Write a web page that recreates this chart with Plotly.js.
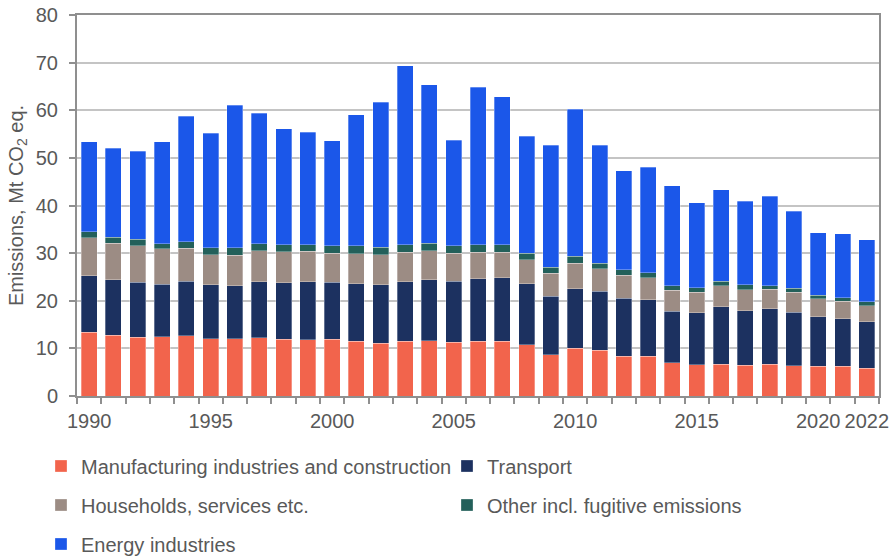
<!DOCTYPE html>
<html>
<head>
<meta charset="utf-8">
<script src="https://cdn.plot.ly/plotly-3.0.1.min.js"></script>
<style>html,body{margin:0;padding:0;background:#fff;}#chart{width:889px;height:558px;}</style>
</head>
<body>
<div id="chart"></div>
<script>
const years = [1990,1991,1992,1993,1994,1995,1996,1997,1998,1999,2000,2001,2002,2003,2004,2005,2006,2007,2008,2009,2010,2011,2012,2013,2014,2015,2016,2017,2018,2019,2020,2021,2022];
const labelYears = [1990,1995,2000,2005,2010,2015,2020,2022];
const manufacturing = [13.4,12.8,12.3,12.4,12.7,12.0,12.0,12.2,11.9,11.8, 11.9,11.5,11.1,11.5,11.6,11.3,11.5,11.5,10.8,8.7, 10.0,9.6,8.3,8.3,7.0,6.6,6.7,6.5,6.7,6.4, 6.2,6.3,5.8];
const transport = [11.9,11.6,11.6,11.1,11.4,11.4,11.2,11.8,11.9,12.2, 12.0,12.1,12.3,12.5,12.8,12.8,13.1,13.3,12.8,12.2, 12.5,12.4,12.2,11.9,10.8,10.9,12.0,11.4,11.6,11.2, 10.4,9.9,9.8];
const households = [7.95,7.7,7.7,7.4,6.9,6.3,6.4,6.5,6.5,6.4, 6.1,6.3,6.3,6.2,6.1,5.9,5.6,5.4,5.0,4.9, 5.4,4.7,4.9,4.6,4.4,4.3,4.5,4.4,4.1,4.2, 3.8,3.7,3.4];
const other = [1.25,1.2,1.3,1.1,1.4,1.4,1.5,1.5,1.5,1.4, 1.6,1.7,1.5,1.6,1.6,1.6,1.6,1.6,1.4,1.2, 1.4,1.2,1.1,1.1,1.0,0.9,0.9,1.1,0.8,0.8, 0.8,0.7,0.8];
const energy = [18.9,18.7,18.5,21.4,26.3,24.1,29.9,27.4,24.3,23.6, 22.0,27.5,30.5,37.5,33.3,22.1,33.0,31.0,24.5,25.6, 30.9,24.8,20.8,22.1,21.0,17.9,19.2,17.5,18.7,16.2, 13.1,13.5,13.0];
const seriesNames = ["Manufacturing industries and construction","Transport","Households, services etc.","Other incl. fugitive emissions","Energy industries"];

const colors = ["#F2644C","#1C3160","#9C8C84","#23605A","#1B57E9"];
const legendIds = ["legend","legend2","legend3","legend4","legend5"];
const values = [manufacturing, transport, households, other, energy];

const traces = values.map((v,i)=>({
  type:"bar", x:years, y:v, name:seriesNames[i], legend:legendIds[i],
  marker:{color:colors[i], line:{color:"rgba(255,255,255,0.5)", width:0.6}},
  hoverinfo:"x+y+name"
}));

const txt = "#595959";
const font = {family:"Liberation Sans, Arial, sans-serif", size:20, color:txt};
function leg(xpx, ypx){
  return {orientation:"h", xref:"container", yref:"container", x:xpx/889, y:1-ypx/558,
    xanchor:"left", yanchor:"middle", font:font, bgcolor:"rgba(0,0,0,0)"};
}

const layout = {
  width:889, height:558,
  margin:{l:77, r:10, t:15, b:162},
  paper_bgcolor:"#fff", plot_bgcolor:"#fff",
  font:font,
  barmode:"stack", bargap:0.342,
  showlegend:true,
  legend:leg(41,466),
  legend2:leg(447,466),
  legend3:leg(41,505),
  legend4:leg(447,505),
  legend5:leg(41,544),
  xaxis:{type:"linear", range:[1989.5,2022.5], tickmode:"array", tickvals:labelYears,
    ticks:"", ticklabelstandoff:6, ticklabeloverflow:"allow",
    minor:{tickmode:"linear", tick0:1989.5, dtick:1, ticks:"outside", ticklen:6, tickwidth:1.5, tickcolor:"#8f8f8f", showgrid:false},
    showline:true, linecolor:"#8f8f8f", linewidth:2, mirror:true, showgrid:false, zeroline:false,
    tickfont:font, tickangle:0},
  yaxis:{range:[0,80], dtick:10, tick0:0, ticks:"outside", ticklen:6, tickwidth:1.5, tickcolor:"#8f8f8f",
    showline:true, linecolor:"#8f8f8f", linewidth:2, mirror:true, ticklabelstandoff:7,
    showgrid:true, gridcolor:"#c4c4c4", gridwidth:1.5, zeroline:false,
    tickfont:font,
    title:{text:"Emissions, Mt CO<sub>2</sub> eq.", font:font, standoff:7}}
};

Plotly.newPlot("chart", traces, layout, {displayModeBar:false, responsive:false});
</script>
</body>
</html>
